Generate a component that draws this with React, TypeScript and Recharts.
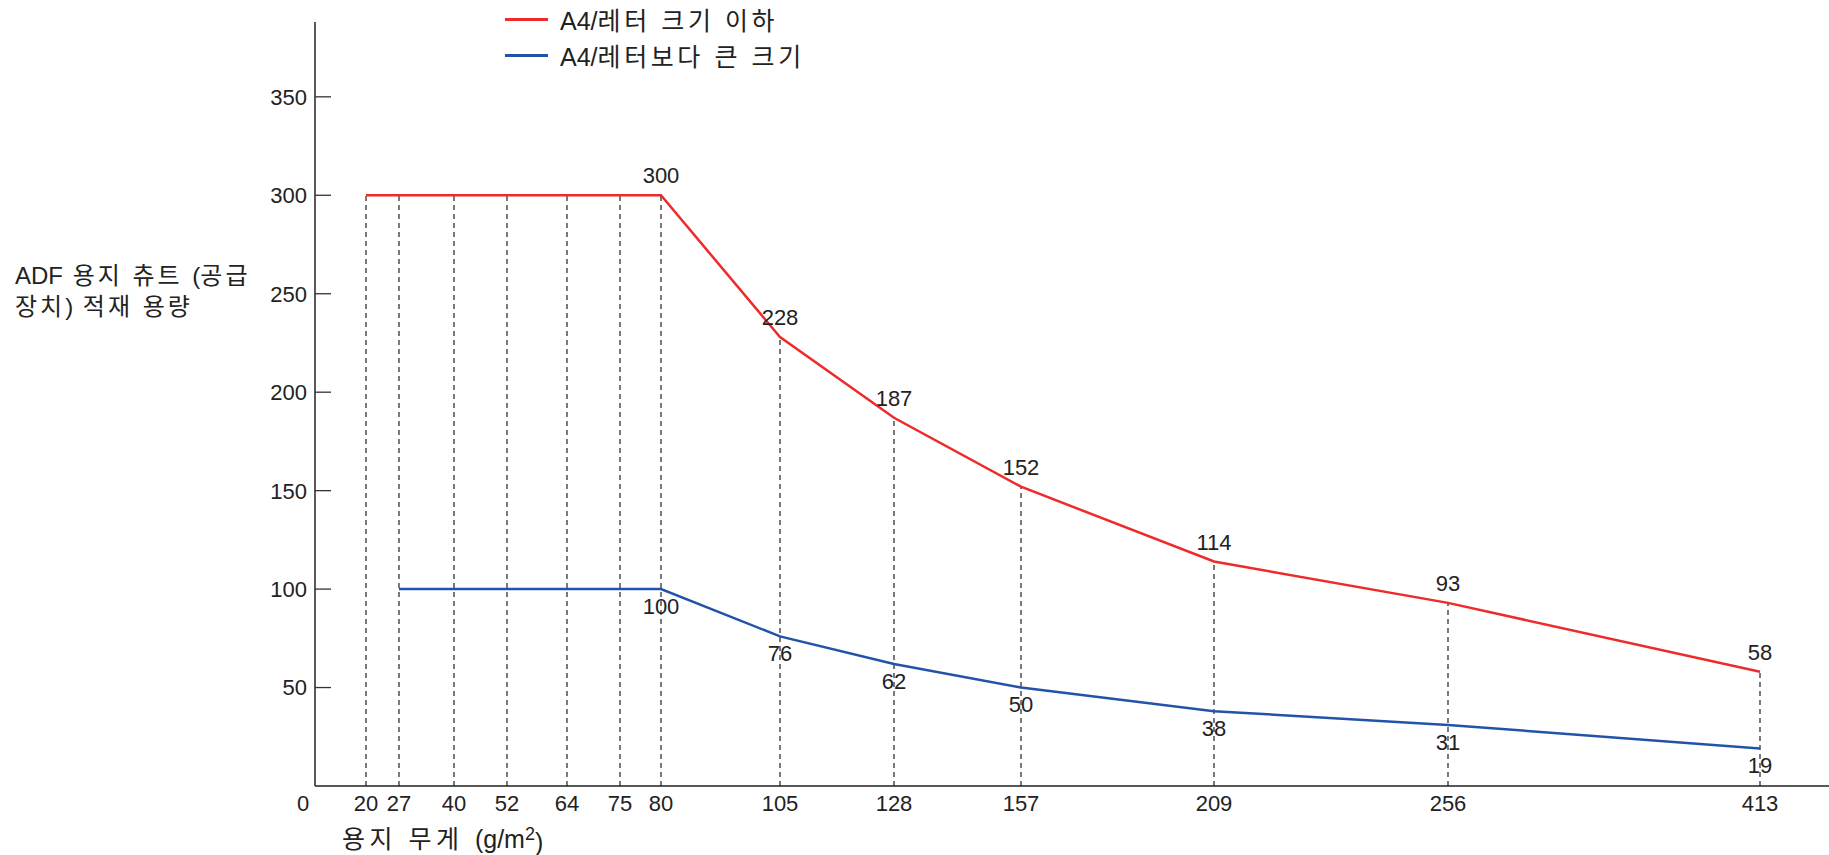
import React from 'react';
import {
  ComposedChart,
  Line,
  XAxis,
  YAxis,
  Legend,
  LabelList,
  ReferenceLine,
} from 'recharts';

// paper weight categories (g/m2)
const WEIGHTS = [20, 27, 40, 52, 64, 75, 80, 105, 128, 157, 209, 256, 413];
// sheet capacity, A4/letter or smaller
const SMALL_SIZE = [300, 300, 300, 300, 300, 300, 300, 228, 187, 152, 114, 93, 58];
// sheet capacity, larger than A4/letter (no value at 20)
const LARGE_SIZE = [null, 100, 100, 100, 100, 100, 100, 76, 62, 50, 38, 31, 19];
const Y_TICKS = [50, 100, 150, 200, 250, 300, 350];

// the original axis is not to scale: horizontal slot of each category along the axis
const X_SLOT = [51, 84, 139, 192, 252, 305, 346, 465, 579, 706, 899, 1133, 1445];
const X_END = 1514;

const FONT = "'Liberation Sans', Arial, 'Noto Sans CJK KR', sans-serif";
const TEXT = '#222';
const RED = '#ee2a2a';
const BLUE = '#2353a8';

const data = WEIGHTS.map((w, i) => ({
  slot: X_SLOT[i],
  weight: w,
  small: SMALL_SIZE[i],
  large: LARGE_SIZE[i],
}));

const xTicks = [0, ...X_SLOT];
const xLabels = ['0', ...WEIGHTS.map(String)];

// the source font sets hangul loosely, latin normally
const splitRuns = (s: string) => s.split(/([가-힣 ]+)/).filter((r) => r.length > 0);
const isHangul = (r: string) => /[가-힣]/.test(r);

const SvgSpaced = ({ text, spacing }: { text: string; spacing: number }) => (
  <>
    {splitRuns(text).map((r, i) => (
      <tspan key={i} letterSpacing={isHangul(r) ? spacing : 0}>
        {r}
      </tspan>
    ))}
  </>
);

// only label the point where the flat run ends, and every point after it
const showLabel = (arr: (number | null)[], i: number) =>
  arr[i] != null && (i === arr.length - 1 || arr[i + 1] !== arr[i]);

const makeLabel = (arr: (number | null)[], above: boolean) => (props: any) => {
  const { x, y, index, value } = props;
  if (!showLabel(arr, index)) return null;
  return (
    <text
      x={x}
      y={above ? y - 12 : y + 9}
      dy={above ? 0 : '0.71em'}
      textAnchor="middle"
      fontSize={22}
      fontFamily={FONT}
      fill={TEXT}
    >
      {value}
    </text>
  );
};

const YTick = (props: any) => {
  const { x, y, payload } = props;
  return (
    <g>
      <line x1={x + 8} x2={x + 24} y1={y} y2={y} stroke="#333" strokeWidth={1.3} />
      <text x={x} y={y} dy="0.36em" textAnchor="end" fontSize={22} fontFamily={FONT} fill={TEXT}>
        {payload.value}
      </text>
    </g>
  );
};

const XTick = (props: any) => {
  const { x, y, index } = props;
  return (
    <text
      x={index === 0 ? x - 12 : x}
      y={y}
      dy="0.71em"
      textAnchor="middle"
      fontSize={22}
      fontFamily={FONT}
      fill={TEXT}
    >
      {xLabels[index]}
    </text>
  );
};

const LegendBox = (props: any) => {
  const { payload } = props;
  return (
    <div style={{ fontFamily: FONT, fontSize: 25, color: TEXT }}>
      {payload.map((p: any) => (
        <div key={p.value} style={{ display: 'flex', alignItems: 'center', height: 36 }}>
          <span style={{ display: 'inline-block', width: 43, height: 3, background: p.color, marginRight: 12 }} />
          <span>
            {splitRuns(p.value).map((r: string, i: number) => (
              <span key={i} style={{ letterSpacing: isHangul(r) ? 3.6 : 0 }}>
                {r}
              </span>
            ))}
          </span>
        </div>
      ))}
    </div>
  );
};

export default function App() {
  return (
    <div style={{ position: 'absolute', left: 0, top: 0, background: '#fff' }}>
      <ComposedChart width={1829} height={855} data={data} margin={{ top: 22, right: 0, left: 0, bottom: 19 }}>
        <XAxis
          dataKey="slot"
          type="number"
          domain={[0, X_END]}
          ticks={xTicks}
          interval={0}
          height={50}
          tickLine={false}
          tickSize={0}
          tickMargin={9}
          tick={<XTick />}
          axisLine={{ stroke: '#222', strokeWidth: 1.5 }}
          label={{
            content: () => (
              <text x={342} y={839} dy="0.36em" fontSize={25} fontFamily={FONT} fill={TEXT}>
                <SvgSpaced text="용지 무게 (g/m" spacing={4.5} />
                <tspan dy="-0.45em" fontSize={18}>2</tspan>
                <tspan dy="0.45em">)</tspan>
              </text>
            ),
          }}
        />
        <YAxis
          type="number"
          domain={[0, 388]}
          ticks={Y_TICKS}
          interval={0}
          width={315}
          tickLine={false}
          tickSize={0}
          tickMargin={8}
          tick={<YTick />}
          axisLine={{ stroke: '#222', strokeWidth: 1.5 }}
          label={{
            content: () => (
              <text fontSize={24} fontFamily={FONT} fill={TEXT}>
                <tspan x={15} y={275} dy="0.36em">
                  <SvgSpaced text="ADF 용지 츄트 (공급" spacing={3} />
                </tspan>
                <tspan x={15} y={306} dy="0.36em">
                  <SvgSpaced text="장치) 적재 용량" spacing={3} />
                </tspan>
              </text>
            ),
          }}
        />
        <Legend
          layout="vertical"
          align="center"
          verticalAlign="middle"
          wrapperStyle={{ position: 'absolute', left: 505, top: 1, width: 'auto' }}
          content={<LegendBox />}
        />
        {data.map((d) => (
          <ReferenceLine
            key={d.weight}
            segment={[
              { x: d.slot, y: 0 },
              { x: d.slot, y: d.small },
            ]}
            stroke="#333"
            strokeWidth={1.3}
            strokeDasharray="5 4"
          />
        ))}
        <Line
          type="linear"
          dataKey="small"
          name="A4/레터 크기 이하"
          stroke={RED}
          strokeWidth={2.5}
          dot={false}
          isAnimationActive={false}
        >
          <LabelList dataKey="small" content={makeLabel(SMALL_SIZE, true)} />
        </Line>
        <Line
          type="linear"
          dataKey="large"
          name="A4/레터보다 큰 크기"
          stroke={BLUE}
          strokeWidth={2.5}
          dot={false}
          isAnimationActive={false}
        >
          <LabelList dataKey="large" content={makeLabel(LARGE_SIZE, false)} />
        </Line>
      </ComposedChart>
    </div>
  );
}
